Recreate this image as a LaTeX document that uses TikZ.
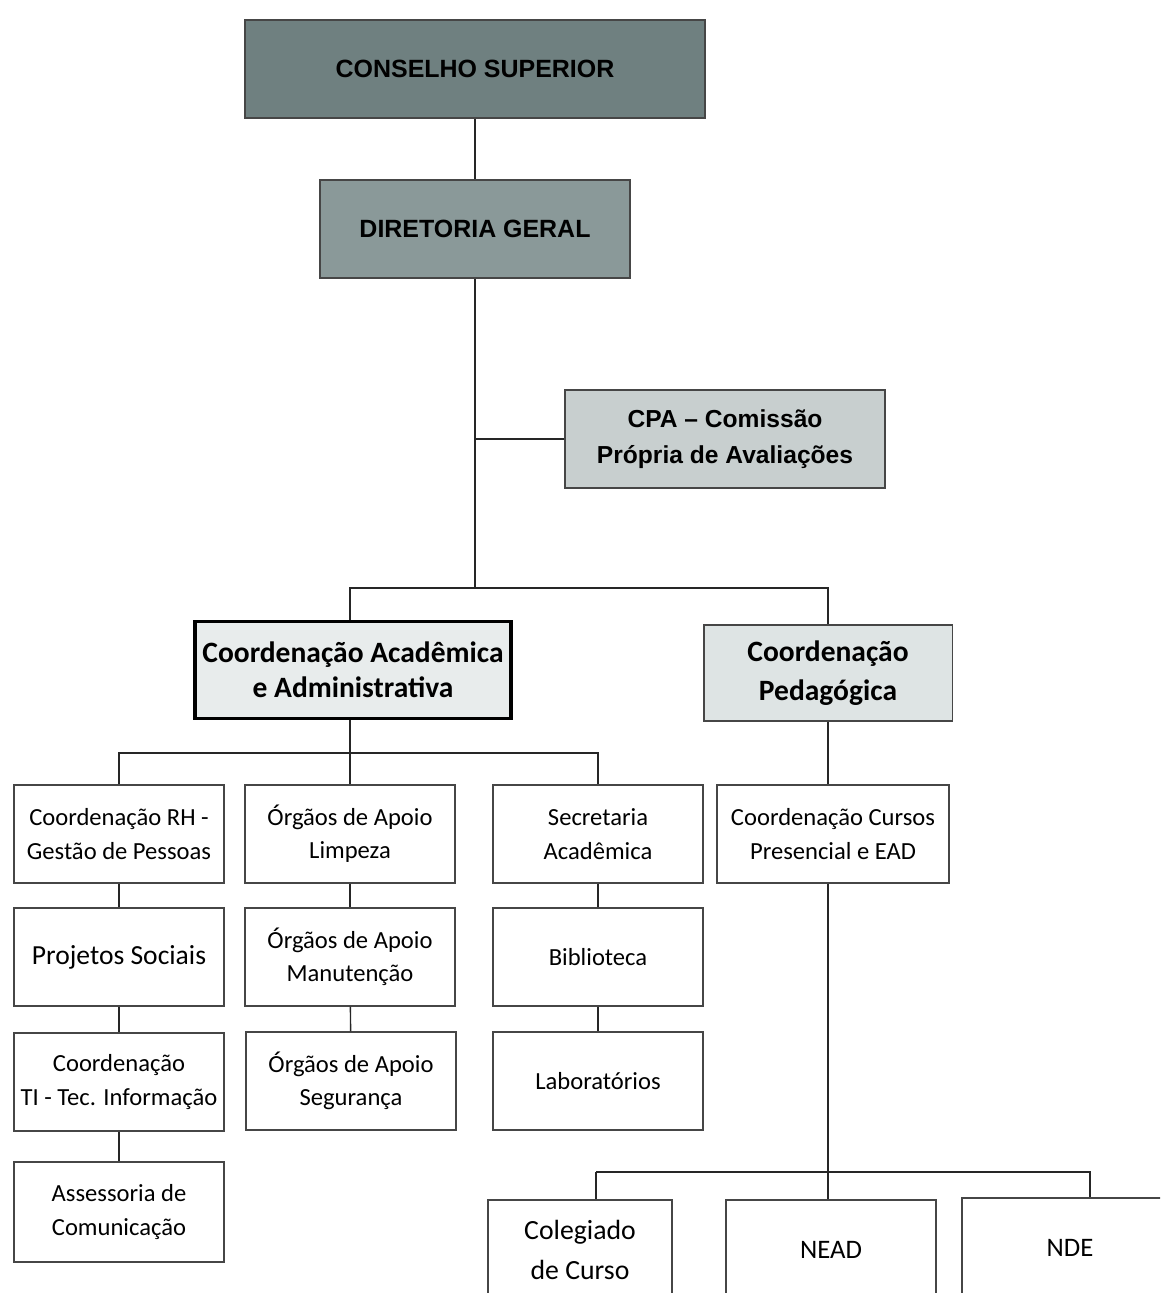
\documentclass[tikz,border=0pt]{standalone}
\usepackage{fontspec}
\setmainfont{Carlito}
\newfontfamily\arialfont{Liberation Sans}
\usetikzlibrary{positioning}
\definecolor{slateDark}{RGB}{111, 128, 128}
\definecolor{slateMid}{RGB}{138, 153, 153}
\definecolor{slateLight}{RGB}{200, 207, 207}
\definecolor{paleGray}{RGB}{232, 236, 236}
\definecolor{paleGrayB}{RGB}{222, 228, 228}
\definecolor{edgeGray}{RGB}{70, 70, 70}

\begin{document}
\begin{tikzpicture}[x=0.02cm, y=-0.02cm, line width=0.8pt,
    topbox/.style={draw=edgeGray, line width=1.2pt, minimum height=1.96cm, inner sep=0pt, align=center, font=\arialfont\bfseries\fontsize{14.2}{16}\selectfont},
    coordbox/.style={draw=black, minimum height=1.93cm, inner sep=0pt, align=center, font=\bfseries\fontsize{16.8}{20}\selectfont},
    unit/.style={draw=edgeGray, fill=white, minimum width=4.2cm, minimum height=1.96cm, inner sep=0pt, align=center, font=\fontsize{14}{19}\selectfont},
    link/.style={draw=black!85}]
    \clip (0,0) rectangle (1160,1293);
    \fill[white] (0,0) rectangle (1160,1293);
    % Direction
    \node[topbox, fill=slateDark, minimum width=9.2cm] (cs) at (475, 69) {CONSELHO SUPERIOR};
    \node[topbox, fill=slateMid, minimum width=6.2cm] (dg) at (475, 229) {DIRETORIA GERAL};
    \node[topbox, fill=slateLight, minimum width=6.4cm, line width=1pt, font=\arialfont\bfseries\fontsize{14}{20.5}\selectfont] (cpa) at (725, 439) {CPA – Comissão\\Própria de Avaliações};
    % Coordinations
    \node[coordbox, fill=paleGray, line width=1.8pt, minimum width=6.32cm] (caa) at (353, 670) {Coordenação Acadêmica\\e Administrativa};
    \node[coordbox, fill=paleGrayB, draw=edgeGray, line width=1.1pt, minimum width=4.98cm, font=\bfseries\fontsize{16.8}{22}\selectfont] (cp) at (828, 673) {Coordenação\\Pedagógica};
    % Column 1
    \node[unit] (rh) at (119, 834) {Coordenação RH -\\Gestão de Pessoas};
    \node[unit, font=\fontsize{15.7}{19}\selectfont] (ps) at (119, 957) {Projetos Sociais};
    \node[unit] (ti) at (119, 1082) {Coordenação\\TI - Tec. Informação};
    \node[unit, minimum height=2cm] (ac) at (119, 1212) {Assessoria de\\Comunicação};
    % Column 2
    \node[unit] (ol) at (350, 834) {Órgãos de Apoio\\Limpeza};
    \node[unit] (om) at (350, 957) {Órgãos de Apoio\\Manutenção};
    \node[unit] (os) at (351, 1081) {Órgãos de Apoio\\Segurança};
    % Column 3
    \node[unit] (sa) at (598, 834) {Secretaria\\Acadêmica};
    \node[unit] (bi) at (598, 957) {Biblioteca};
    \node[unit] (la) at (598, 1081) {Laboratórios};
    % Column 4
    \node[unit, minimum width=4.64cm] (cc) at (833, 834) {Coordenação Cursos\\Presencial e EAD};
    \node[unit, minimum width=3.68cm, minimum height=2cm, font=\fontsize{15.8}{23}\selectfont] (cg) at (580, 1250) {Colegiado\\de Curso};
    \node[unit, minimum height=2cm, font=\fontsize{15.2}{18}\selectfont] (ne) at (831, 1250) {NEAD};
    \node[unit, minimum width=4.32cm, minimum height=2cm, font=\fontsize{15.2}{18}\selectfont] (nd) at (1070, 1248) {NDE};
    % Junctions
    \coordinate (j1) at (475, 588);
    \coordinate (j2) at (350, 753);
    \coordinate (j3) at (828, 1172);
    % Links
    \draw[link] (cs) -- (dg);
    \draw[link] (dg.south) -- (j1);
    \draw[link] (dg.south |- cpa.west) -- (cpa.west);
    \draw[link] (caa.north -| j2) |- (j1) -| (cp.north);
    \draw[link, line width=1.4pt] (caa.south -| j2) -- (j2);
    \draw[link] (rh.north) |- (j2) -| (sa.north);
    \draw[link, line width=1.4pt] (j2) -- (ol.north);
    \foreach \a/\b in {rh/ps, ps/ti, ti/ac, ol/om, om/os, sa/bi, bi/la}
      \draw[link] (\a) -- (\b);
    \draw[link] (cp.south) -- (cp.south |- cc.north);
    \draw[link] (cp.south |- cc.south) -- (j3);
    \draw[link] (j3) -- (j3 |- ne.north);
    \draw[link] (596, 1172) coordinate (b1) -- (b1 |- cg.north);
    \draw[link] (b1) -- (1090, 1172) coordinate (b3) -- (b3 |- nd.north);
  \end{tikzpicture}
\end{document}
